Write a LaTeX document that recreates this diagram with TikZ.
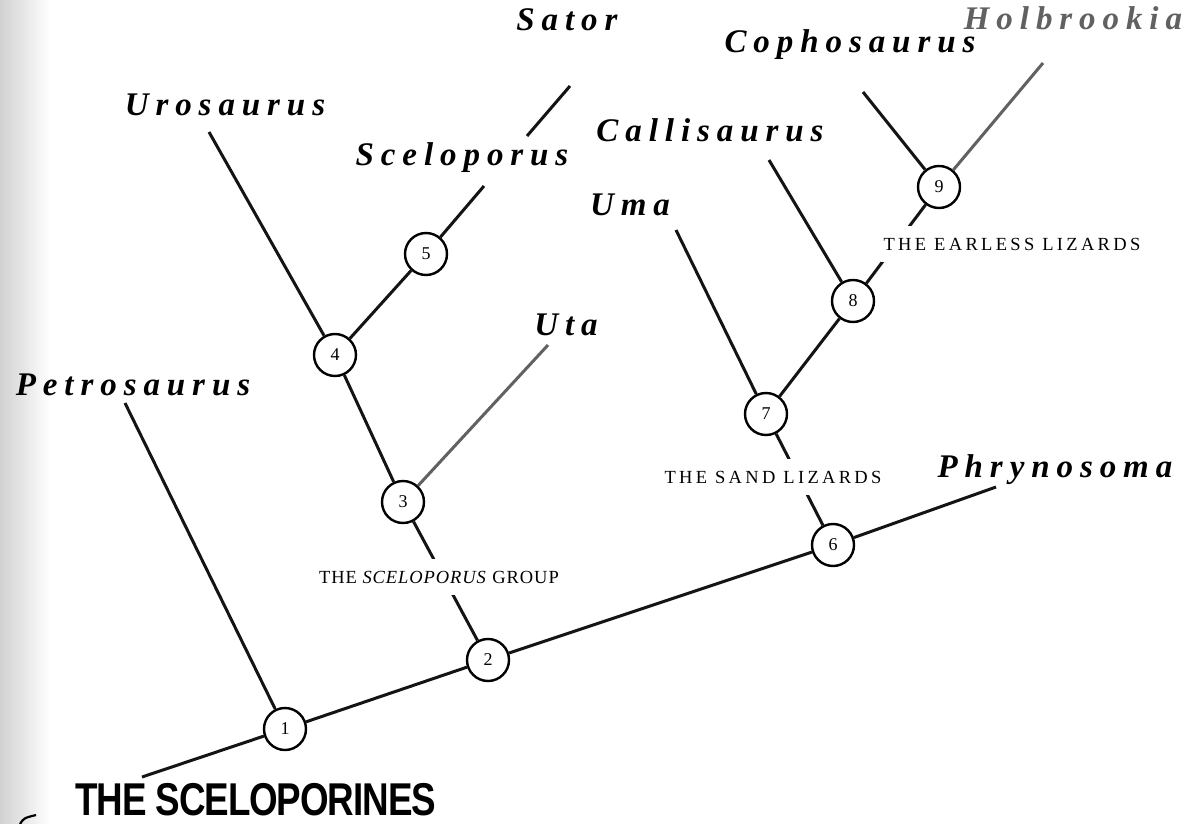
\documentclass[tikz,border=0pt]{standalone}
\usepackage{fontspec}
\setmainfont{Liberation Serif}
\newfontfamily\taxfont[LetterSpace=21]{Liberation Serif}
\newfontfamily\capfont[LetterSpace=18]{Liberation Serif}
\newfontfamily\capfonttight[LetterSpace=5]{Liberation Serif}
\newfontfamily\titlefont[LetterSpace=-3]{Liberation Sans}
\begin{document}
\begin{tikzpicture}[x=1pt,y=-1pt,
  br/.style={line width=3pt, black!92},
  brg/.style={line width=3pt, black!62},
  nd/.style={circle, draw, line width=2.4pt, fill=white, minimum size=42pt, inner sep=0pt, font=\fontsize{18}{18}\selectfont},
  tax/.style={font=\taxfont\bfseries\itshape\fontsize{33}{36}\selectfont, inner sep=1pt},
  grp/.style={font=\capfont\fontsize{18.5}{22}\selectfont, fill=white, inner xsep=3pt, inner ysep=12pt},
]
\useasboundingbox (0,0) rectangle (1191,824);
\fill[white] (0,0) rectangle (1191,824);
\shade[left color=black!18, right color=white] (0,0) rectangle (50,824);

% branch points
\node[nd] (n1) at (285,729) {1};
\node[nd] (n2) at (488,660) {2};
\node[nd] (n3) at (403,502) {3};
\node[nd] (n4) at (335,355) {4};
\node[nd] (n5) at (426,254) {5};
\node[nd] (n6) at (833,545) {6};
\node[nd] (n7) at (766,414) {7};
\node[nd] (n8) at (853,301) {8};
\node[nd] (n9) at (939,187) {9};

% free ends
\coordinate (root) at (142,777);
\coordinate (phry) at (996,487);
\coordinate (petro) at (125,403);
\coordinate (uro) at (209,132);
\coordinate (scel) at (484,186);
\coordinate (satorA) at (527,136);
\coordinate (satorB) at (570,86);
\coordinate (uta) at (548,345);
\coordinate (uma) at (676,230);
\coordinate (calli) at (769,160);
\coordinate (copho) at (863,92);
\coordinate (holb) at (1043,63);

% connectors
\draw[br] (root) -- (n1);
\draw[br] (n1) -- (n2);
\draw[br] (n2) -- (n6);
\draw[br] (n6) -- (phry);
\draw[br] (n1) -- (petro);
\draw[br] (n2) -- (n3);
\draw[br] (n3) -- (n4);
\draw[brg] (n3) -- (uta);
\draw[br] (n4) -- (uro);
\draw[br] (n4) -- (n5);
\draw[br] (n5) -- (scel);
\draw[br] (satorA) -- (satorB);
\draw[br] (n6) -- (n7);
\draw[br] (n7) -- (uma);
\draw[br] (n7) -- (n8);
\draw[br] (n8) -- (calli);
\draw[br] (n8) -- (n9);
\draw[br] (n9) -- (copho);
\draw[brg] (n9) -- (holb);

% group labels
\node[grp, font=\capfonttight\fontsize{18.5}{22}\selectfont] (gscel) at (439,577) {THE \textit{SCELOPORUS} GROUP};
\node[grp] (gsand) at (773,477) {THE SAND LIZARDS};
\node[grp] (gear) at (1012,244) {THE EARLESS LIZARDS};

% taxon labels
\node[tax] (tSator) at (567,20) {Sator};
\node[tax, text=black!62] (tHolb) at (1073,18) {Holbrookia};
\node[tax] (tCopho) at (850,45) {Cophosaurus};
\node[tax] (tUro) at (225,105) {Urosaurus};
\node[tax] (tCalli) at (710,130) {Callisaurus};
\node[tax] (tScel) at (462,158) {Sceloporus};
\node[tax] (tUma) at (630,205) {Uma};
\node[tax] (tUta) at (566,325) {Uta};
\node[tax] (tPetro) at (133,385) {Petrosaurus};
\node[tax] (tPhry) at (1055,470) {Phrynosoma};

% title
\node[font=\titlefont\bfseries\fontsize{46}{46}\selectfont, inner sep=0pt, anchor=base west] (title) at (75,815) {\scalebox{0.8}[1]{THE SCELOPORINES}};
\draw[line width=2.2pt] (20,824) .. controls (24,818) .. (36,815);
\end{tikzpicture}
\end{document}
